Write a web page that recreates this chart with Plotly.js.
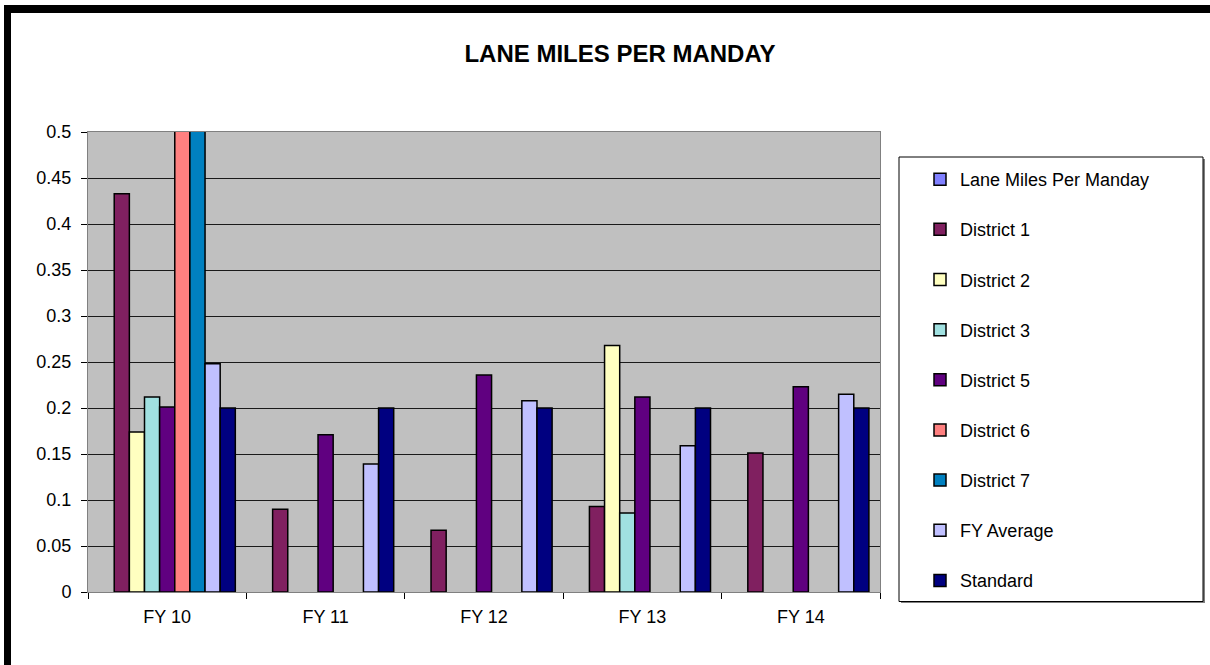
<!DOCTYPE html>
<html>
<head>
<meta charset="utf-8">
<script src="https://cdn.plot.ly/plotly-3.0.1.min.js"></script>
<style>
html,body{margin:0;padding:0;background:#fff;}
#chart{width:1210px;height:665px;}
</style>
</head>
<body>
<div id="chart"></div>
<script>
var categories = ["FY 10", "FY 11", "FY 12", "FY 13", "FY 14"];
var seriesNames = ["Lane Miles Per Manday", "District 1", "District 2", "District 3", "District 5", "District 6", "District 7", "FY Average", "Standard"];
var laneMiles  = [null, null, null, null, null];
var district1  = [0.433, 0.090, 0.067, 0.093, 0.151];
var district2  = [0.174, null, null, 0.268, null];
var district3  = [0.212, null, null, 0.086, null];
var district5  = [0.201, 0.171, 0.236, 0.212, 0.223];
var district6  = [0.56, null, null, null, null];
var district7  = [0.56, null, null, null, null];
var fyAverage  = [0.248, 0.139, 0.208, 0.159, 0.215];
var standard   = [0.200, 0.200, 0.200, 0.200, 0.200];
var yTickVals = [0, 0.05, 0.1, 0.15, 0.2, 0.25, 0.3, 0.35, 0.4, 0.45, 0.5];

var seriesValues = [laneMiles, district1, district2, district3, district5, district6, district7, fyAverage, standard];
var colors = ["#8080FF", "#802060", "#FFFFC0", "#A0E0E0", "#600080", "#FF8080", "#0080C0", "#C0C0FF", "#000080"];

var traces = seriesNames.map(function(name, i){
  return {
    type: "bar",
    name: name,
    x: categories,
    y: seriesValues[i],
    legendgroup: "g" + i,
    marker: {color: colors[i], line: {color: "#000000", width: 1.5}},
    hoverinfo: "x+y+name"
  };
});

// pixel helpers for decoration (plot area: x 88..880, y 132..592)
function px(x){ return (x - 88) / 792; }
function py(y){ return (592 - y) / 460; }

var layout = {
  width: 1210, height: 665,
  margin: {l: 88, r: 330, t: 132, b: 73, pad: 0},
  paper_bgcolor: "#FFFFFF",
  plot_bgcolor: "#C0C0C0",
  font: {family: "Arial, 'Liberation Sans', sans-serif", color: "#000000", size: 18},
  title: {
    text: "<b>LANE MILES PER MANDAY</b>",
    font: {family: "Arial, 'Liberation Sans', sans-serif", size: 24, color: "#000000"},
    x: 620/1210, xref: "container", xanchor: "center",
    y: 1 - 54/665, yref: "container", yanchor: "middle"
  },
  barmode: "group",
  bargap: 0.14,
  bargroupgap: 0,
  showlegend: true,
  legend: {
    x: px(920), xanchor: "left",
    y: py(161), yanchor: "top",
    bgcolor: "rgba(0,0,0,0)",
    borderwidth: 0,
    font: {size: 18, color: "#000000"},
    tracegroupgap: 23.75,
    traceorder: "grouped",
    itemclick: false, itemdoubleclick: false
  },
  xaxis: {
    type: "category",
    tickson: "boundaries",
    ticks: "outside", ticklen: 6, tickcolor: "#000000", tickwidth: 1,
    showline: true, linecolor: "#808080", linewidth: 1, mirror: true,
    showgrid: false,
    tickfont: {size: 18},
    ticklabelstandoff: 8,
    fixedrange: true
  },
  yaxis: {
    range: [0, 0.5],
    tickvals: yTickVals,
    ticktext: yTickVals.map(function(v){ return String(v); }),
    ticks: "outside", ticklen: 6, tickcolor: "#000000", tickwidth: 1,
    showline: true, linecolor: "#808080", linewidth: 1, mirror: true,
    showgrid: true, gridcolor: "#1a1a1a", gridwidth: 1,
    zeroline: false,
    tickfont: {size: 18},
    ticklabelstandoff: 6,
    fixedrange: true
  },
  shapes: [
    // legend box
    {type: "rect", xref: "paper", yref: "paper", x0: px(901), x1: px(1205), y0: py(603), y1: py(159),
     line: {width: 0}, fillcolor: "#808080", layer: "below"},
    {type: "rect", xref: "paper", yref: "paper", x0: px(899), x1: px(1203), y0: py(601.5), y1: py(157),
     line: {color: "#000000", width: 1}, fillcolor: "#FFFFFF", layer: "below"},
    // outer black frame (top and left)
    {type: "rect", xref: "paper", yref: "paper", x0: px(4), x1: px(1210), y0: py(13), y1: py(5),
     line: {width: 0}, fillcolor: "#000000"},
    {type: "rect", xref: "paper", yref: "paper", x0: px(4), x1: px(11), y0: py(665), y1: py(5),
     line: {width: 0}, fillcolor: "#000000"}
  ]
};

Plotly.newPlot("chart", traces, layout, {displayModeBar: false, staticPlot: false});
</script>
</body>
</html>
